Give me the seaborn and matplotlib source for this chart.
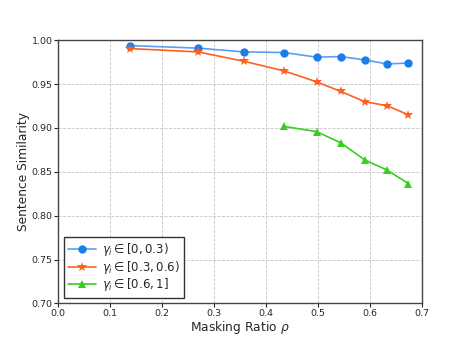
import pandas as pd
import matplotlib.pyplot as plt
import seaborn as sns

# valores
ratio = [0.139, 0.269, 0.358, 0.435, 0.4975, 0.544, 0.590, 0.633, 0.674]
sim_low = [0.9939, 0.991, 0.9867, 0.986, 0.9807, 0.9814, 0.9776, 0.973, 0.974]
sim_mid = [0.9905, 0.9867, 0.976, 0.965, 0.9526, 0.9416, 0.930, 0.9253, 0.915]
ratio_high = [0.435, 0.4975, 0.544, 0.590, 0.633, 0.674]
sim_high = [0.9018, 0.8958, 0.883, 0.8636, 0.852, 0.8367]

labels = [r'$\gamma_i \in [0, 0.3)$', r'$\gamma_i \in [0.3, 0.6)$', r'$\gamma_i \in [0.6, 1]$']

df = pd.concat([
    pd.DataFrame({'ratio': ratio, 'sim': sim_low, 'grupo': labels[0]}),
    pd.DataFrame({'ratio': ratio, 'sim': sim_mid, 'grupo': labels[1]}),
    pd.DataFrame({'ratio': ratio_high, 'sim': sim_high, 'grupo': labels[2]}),
])

sns.set_style('white')
plt.rcParams['font.family'] = ['DejaVu Sans']

fig = plt.figure(figsize=(4.69, 3.41), dpi=100)
ax = fig.add_axes([0.1237, 0.11, 0.776, 0.772])

cores_linha = ['#5a9ef0', '#ff5f1f', '#33d11a']
cores_marca = ['#1a7fe8', '#ff5f1f', '#33d11a']
marcadores = ['o', '*', '^']
for lab, cl, cm, mk in zip(labels, cores_linha, cores_marca, marcadores):
    sub = df[df['grupo'] == lab]
    sns.lineplot(x='ratio', y='sim', data=sub, ax=ax, color=cl, marker=mk,
                 markerfacecolor=cm, markeredgecolor=cm,
                 markersize=6 if mk != '*' else 7, markeredgewidth=0,
                 linewidth=1.2, label=lab, zorder=3)

ax.set_xlim(0, 0.7)
ax.set_ylim(0.70, 1.00)
ax.set_xticks([0.0, 0.1, 0.2, 0.3, 0.4, 0.5, 0.6, 0.7])
ax.set_yticks([0.70, 0.75, 0.80, 0.85, 0.90, 0.95, 1.00])
ax.set_xticklabels(['0.0', '0.1', '0.2', '0.3', '0.4', '0.5', '0.6', '0.7'])
ax.set_yticklabels(['0.70', '0.75', '0.80', '0.85', '0.90', '0.95', '1.00'])
ax.tick_params(labelsize=6.8, length=3, width=0.8, direction='out', left=True, bottom=True, pad=1)
ax.grid(True, linestyle='--', color='#c4c4c4', linewidth=0.6)
for s in ax.spines.values():
    s.set_color('#444444')
    s.set_linewidth(1.0)

ax.set_xlabel(r'Masking Ratio $\rho$', fontsize=8.8, labelpad=1)
ax.set_ylabel('Sentence Similarity', fontsize=8.8, labelpad=1)

leg = ax.legend(loc='lower left', fontsize=8.5, frameon=True, fancybox=False,
                edgecolor='#333333', framealpha=1, handlelength=2.4,
                handletextpad=0.5, labelspacing=0.05, borderpad=0.35,
                borderaxespad=0.5)
leg.get_frame().set_linewidth(1.0)

plt.savefig('out.png', dpi=100)
